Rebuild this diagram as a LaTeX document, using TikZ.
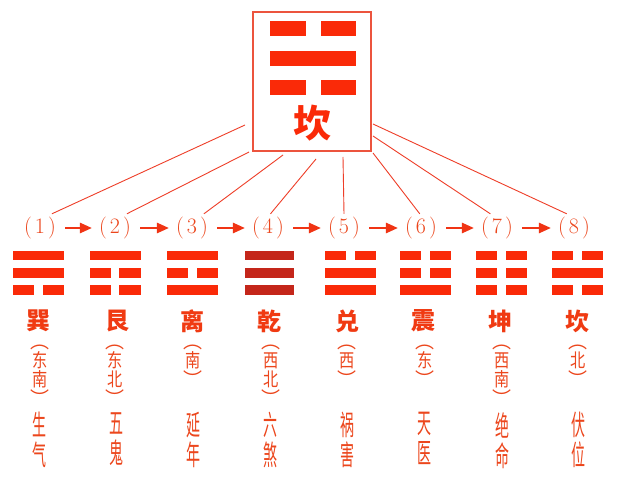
\documentclass[tikz,border=0pt]{standalone}
\usepackage{fontspec}
\newfontfamily\cjk{Noto Sans CJK SC}
\usetikzlibrary{arrows.meta,calc}
\definecolor{barc}{RGB}{250,42,8}
\definecolor{darkbar}{RGB}{196,38,26}
\definecolor{namec}{RGB}{240,58,18}
\definecolor{txtc}{RGB}{236,70,28}
\definecolor{linec}{RGB}{238,62,40}
\definecolor{boxc}{RGB}{236,84,62}
\definecolor{arrc}{RGB}{240,52,20}
\newcommand\nc[1]{\scalebox{0.5}[1]{#1}}
\newcommand\dc[1]{\scalebox{0.8}[1]{#1}}
% trigram: x, y of middle bar, width, bar height, gap, pitch, bits top-to-bottom
\newcommand\gua[7]{%
  \foreach \b [count=\i] in {#7} {%
    \pgfmathsetmacro\yy{#2+(\i-2)*#6}%
    \ifnum\b=1
      \fill (#1-#3/2,\yy-#4/2) rectangle (#1+#3/2,\yy+#4/2);
    \else
      \fill (#1-#3/2,\yy-#4/2) rectangle (#1-#5/2,\yy+#4/2);
      \fill (#1+#5/2,\yy-#4/2) rectangle (#1+#3/2,\yy+#4/2);
    \fi
  }}
\begin{document}
\begin{tikzpicture}[x=1pt,y=-1pt,
  lbl/.style={text=txtc, font=\fontsize{22}{22}\selectfont, inner xsep=0pt, inner ysep=3pt},
  gname/.style={text=namec, font=\cjk\bfseries\fontsize{24}{24}\selectfont, inner sep=0},
  dirt/.style={text=txtc, font=\cjk\fontsize{19}{19}\selectfont, align=center, anchor=north, inner sep=0},
  mean/.style={text=txtc, font=\cjk\fontsize{28}{30}\selectfont, align=center, anchor=north, inner sep=0},
  link/.style={draw=linec, line width=0.9pt},
  seq/.style={draw=arrc, line width=2.4pt, -{Triangle[length=12pt,width=10pt]}, shorten <=9pt, shorten >=7pt},
  boxst/.style={draw=boxc, line width=1.3pt, minimum width=118pt, minimum height=139pt, inner sep=0}
]
\useasboundingbox (0,0) rectangle (624,497);
\fill[white] (0,0) rectangle (624,497);

% top box
\node[boxst] (box) at (312,81.5) {};
\node[text=barc, font=\cjk\bfseries\fontsize{38}{38}\selectfont, inner sep=0] (kan) at (312,123) {坎};
\begin{scope}[fill=barc]
  \gua{313}{58.5}{86}{15}{15}{29.5}{0,1,0}
\end{scope}

% sequence labels
\foreach \x/\n in {40/1,115/2,192/3,268/4,344/5,421/6,497/7,574/8}
  \node[lbl] (l\n) at (\x,228) {(\kern3pt\n\kern3pt)};

% arrows between labels
\foreach \a/\b in {1/2,2/3,3/4,4/5,5/6,6/7,7/8}
  \draw[seq] (l\a.east) -- (l\b.west);

% connector start points on the box
\coordinate (b1) at (245,125);
\coordinate (b2) at (249,152);
\coordinate (b3) at (283,155);
\coordinate (b4) at (316,159);
\coordinate (b5) at (343,157);
\coordinate (b6) at (373,153);
\coordinate (b7) at (373,136);
\coordinate (b8) at (373,124);
\draw[link] (b1) -- (l1.50);
\draw[link] (b2) -- (l2.50);
\draw[link] (b3) -- (l3.50);
\draw[link] (b4) -- (l4.80);
\draw[link] (b5) -- (l5.north);
\draw[link] (b6) -- (l6.95);
\draw[link] (b7) -- (l7.115);
\draw[link] (b8) -- (l8.117);

% trigrams
\begin{scope}[fill=barc]
  \gua{38.8}{272.8}{51}{9.5}{9}{17.3}{1,1,0}
  \gua{115.2}{272.8}{51}{9.5}{8}{17.3}{1,0,0}
  \gua{192.5}{272.8}{51}{9.5}{9}{17.3}{1,0,1}
  \gua{350}{272.8}{51}{9.5}{9}{17.3}{0,1,1}
  \gua{425}{272.8}{51}{9.5}{9}{17.3}{0,0,1}
  \gua{501.5}{272.8}{51}{9.5}{9}{17.3}{0,0,0}
  \gua{577.7}{272.8}{51}{9.5}{9}{17.3}{0,1,0}
\end{scope}
\begin{scope}[fill=darkbar]
  \gua{269.5}{272.8}{49}{9.5}{9}{17.3}{1,1,1}
\end{scope}

% trigram names
\node[gname] (n1) at (38,321) {巽};
\node[gname] (n2) at (117,321) {艮};
\node[gname] (n3) at (192,321) {离};
\node[gname] (n4) at (269,321) {乾};
\node[gname] (n5) at (347,321) {兑};
\node[gname] (n6) at (423,321) {震};
\node[gname] (n7) at (500,321) {坤};
\node[gname] (n8) at (577,321) {坎};

% directions
\node[dirt] (d1) at (40,345) {︵\\\dc{东}\\\dc{南}\\︶};
\node[dirt] (d2) at (115,345) {︵\\\dc{东}\\\dc{北}\\︶};
\node[dirt] (d3) at (193,345) {︵\\\dc{南}\\︶};
\node[dirt] (d4) at (271,345) {︵\\\dc{西}\\\dc{北}\\︶};
\node[dirt] (d5) at (347,345) {︵\\\dc{西}\\︶};
\node[dirt] (d6) at (425,345) {︵\\\dc{东}\\︶};
\node[dirt] (d7) at (502,345) {︵\\\dc{西}\\\dc{南}\\︶};
\node[dirt] (d8) at (578,345) {︵\\\dc{北}\\︶};

% meanings
\node[mean] (m1) at (39,412) {\nc{生}\\\nc{气}};
\node[mean] (m2) at (116,412) {\nc{五}\\\nc{鬼}};
\node[mean] (m3) at (193,412) {\nc{延}\\\nc{年}};
\node[mean] (m4) at (270,412) {\nc{六}\\\nc{煞}};
\node[mean] (m5) at (347,412) {\nc{祸}\\\nc{害}};
\node[mean] (m6) at (424,412) {\nc{天}\\\nc{医}};
\node[mean] (m7) at (502,412) {\nc{绝}\\\nc{命}};
\node[mean] (m8) at (578,412) {\nc{伏}\\\nc{位}};
\end{tikzpicture}
\end{document}
